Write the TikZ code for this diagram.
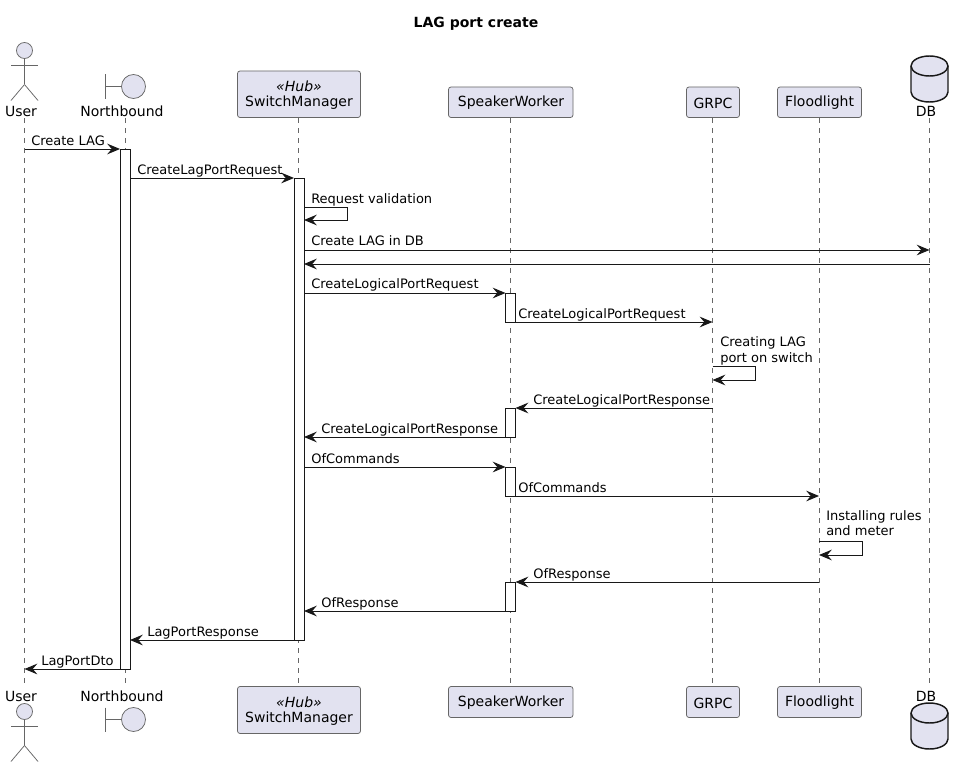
\documentclass[tikz,border=0pt]{standalone}
\usepackage{fontspec}
\setmainfont{DejaVu Sans}
\usetikzlibrary{arrows.meta,calc}
\definecolor{partfill}{HTML}{E2E2F0}
\definecolor{partline}{HTML}{666666}
\definecolor{ink}{HTML}{181818}
\tikzset{
  px/.style={x=0.75pt,y=-0.75pt},
  partbox/.style={draw=partline,line width=0.55pt,fill=partfill,rounded corners=1.9pt,inner sep=0pt,outer sep=0pt,anchor=north west},
  parttext/.style={font=\fontsize{10.5}{13}\selectfont,text=black,inner sep=0pt,anchor=center},
  lifeline/.style={draw=partline,line width=0.45pt,dash pattern=on 3.75pt off 3.75pt},
  actbar/.style={draw=ink,line width=0.75pt,fill=white,inner sep=0pt,outer sep=0pt,anchor=north,minimum width=7.5pt},
  msgline/.style={draw=ink,line width=0.75pt,-{Stealth[length=9.6pt,width=8pt,inset=3.4pt]}},
  msglabel/.style={font=\fontsize{9.75}{12}\selectfont,text=black,inner sep=0pt,anchor=base west},
  figline/.style={draw=partline,line width=0.55pt,fill=partfill},
  dbline/.style={draw=ink,line width=1.1pt,fill=partfill},
}
\def\lift{4}
% box: name, left, top, right, bottom
\newcommand{\pbox}[5]{%
  \pgfmathsetmacro{\bw}{(#4-#2)*0.75}%
  \pgfmathsetmacro{\bh}{(#5-#3)*0.75}%
  \node[partbox,minimum width=\bw pt,minimum height=\bh pt] (#1) at (#2,#3) {};}
% actor: name, x, head centre y
\newcommand{\actorfig}[3]{%
  \node[figline,circle,inner sep=0pt,outer sep=0pt,minimum size=12pt] (#1) at (#2,#3) {};
  \draw[figline] (#1.south) -- ++(0,26) coordinate (#1-hip);
  \draw[figline] ($(#1.south)+(-13.5,7)$) -- ++(27,0);
  \draw[figline] (#1-hip) -- ++(-13.5,16);
  \draw[figline] (#1-hip) -- ++(13.5,16);}
% boundary: name, circle x, circle y
\newcommand{\boundfig}[3]{%
  \node[figline,circle,inner sep=0pt,outer sep=0pt,minimum size=18pt] (#1) at (#2,#3) {};
  \draw[figline] (#1.west) -- ++(-16.5,0) coordinate (#1-bar);
  \draw[figline] ($(#1-bar)+(0,-12)$) -- ++(0,24);}
% database: x left, top y
\newcommand{\dbfig}[2]{%
  \pgfmathsetmacro{\xm}{#1+18.5}\pgfmathsetmacro{\xr}{#1+37}%
  \pgfmathsetmacro{\xp}{#1+8.3}\pgfmathsetmacro{\xq}{#1+28.7}%
  \pgfmathsetmacro{\ya}{#2+10}\pgfmathsetmacro{\yb}{#2+36}\pgfmathsetmacro{\yc}{#2+46}\pgfmathsetmacro{\yd}{#2+20}%
  \pgfmathsetmacro{\ct}{#2+4.5}\pgfmathsetmacro{\cm}{#2+15.5}\pgfmathsetmacro{\cb}{#2+41.5}%
  \draw[dbline] (#1,\ya) .. controls (#1,\ct) and (\xp,#2) .. (\xm,#2)
    .. controls (\xq,#2) and (\xr,\ct) .. (\xr,\ya) -- (\xr,\yb)
    .. controls (\xr,\cb) and (\xq,\yc) .. (\xm,\yc)
    .. controls (\xp,\yc) and (#1,\cb) .. (#1,\yb) -- cycle;
  \draw[dbline,fill=none] (#1,\ya) .. controls (#1,\cm) and (\xp,\yd) .. (\xm,\yd)
    .. controls (\xq,\yd) and (\xr,\cm) .. (\xr,\ya);}
% activation: name, x, y1, y2
\newcommand{\act}[4]{%
  \pgfmathsetmacro{\bh}{(#4-#3)*0.75}%
  \node[actbar,minimum height=\bh pt] (#1) at (#2,#3) {};}
% message: id, from, to, y, label x, label
\newcommand{\msg}[6]{%
  \coordinate (#1-a) at (#2 |- 0,#4);
  \coordinate (#1-b) at (#3 |- 0,#4);
  \draw[msgline] (#1-a) -- (#1-b);
  \node[msglabel] (#1-t) at (#5,#4-\lift) {#6};}
% unlabelled message: id, from, to, y
\newcommand{\plainmsg}[4]{%
  \coordinate (#1-a) at (#2 |- 0,#4);
  \coordinate (#1-b) at (#3 |- 0,#4);
  \draw[msgline] (#1-a) -- (#1-b);}
% self message: id, from, to, y1, y2
\newcommand{\selfmsg}[5]{%
  \coordinate (#1-a) at (#2 |- 0,#4);
  \coordinate (#1-b) at (#3 |- 0,#5);
  \draw[msgline] (#1-a) -- ++(43,0) |- (#1-b);}
\begin{document}
\begin{tikzpicture}[px]
\useasboundingbox (0,0) rectangle (963,767);
\fill[white] (0,0) rectangle (963,767);
\node[font=\bfseries\fontsize{10.5}{13}\selectfont,inner sep=0pt] (title) at (476,24) {LAG port create};

% lifeline end points
\foreach \n/\x in {User/24.5,North/125.5,SM/298.5,SW/510.5,GR/712.5,FL/819,DB/929.5}{
  \coordinate (l\n) at (\x,118);
  \coordinate (e\n) at (\x,686);
  \draw[lifeline] (l\n) -- (e\n);
}

% top row
\actorfig{userTop}{24.5}{50.5}
\node[parttext] (userTopL) at (21,111) {User};
\boundfig{northTop}{133.5}{86.5}
\node[parttext] (northTopL) at (122,111) {Northbound};
\pbox{smTop}{237.5}{71}{360.5}{117.5}
\node[parttext,font=\itshape\fontsize{10.5}{13}\selectfont] (smTopS) at (299,86.5) {«Hub»};
\node[parttext] (smTopL) at (299,103) {SwitchManager};
\pbox{swTop}{448.5}{87}{573}{117.5}
\node[parttext] (swTopL) at (511,103) {SpeakerWorker};
\pbox{grTop}{686.5}{87}{739.5}{117.5}
\node[parttext] (grTopL) at (713,103) {GRPC};
\pbox{flTop}{777.5}{87}{861.5}{117.5}
\node[parttext] (flTopL) at (819.5,103) {Floodlight};
\dbfig{911}{56}
\node[parttext] (dbTopL) at (926,111) {DB};

% bottom row
\node[parttext] (userBotL) at (21,696) {User};
\actorfig{userBot}{24.5}{711.5}
\node[parttext] (northBotL) at (122,696) {Northbound};
\boundfig{northBot}{133.5}{719.5}
\pbox{smBot}{237.5}{686.5}{360.5}{733.5}
\node[parttext,font=\itshape\fontsize{10.5}{13}\selectfont] (smBotS) at (299,702.5) {«Hub»};
\node[parttext] (smBotL) at (299,719) {SwitchManager};
\pbox{swBot}{448.5}{686.5}{573}{717.5}
\node[parttext] (swBotL) at (511,703) {SpeakerWorker};
\pbox{grBot}{686.5}{686.5}{739.5}{717.5}
\node[parttext] (grBotL) at (713,703) {GRPC};
\pbox{flBot}{777.5}{686.5}{861.5}{717.5}
\node[parttext] (flBotL) at (819.5,703) {Floodlight};
\node[parttext] (dbBotL) at (926,696) {DB};
\dbfig{911}{703}

% activations
\act{nbA}{125}{149}{669}
\act{smA}{299}{178}{640}
\act{swA}{510.5}{293}{322}
\act{swB}{510.5}{408}{437}
\act{swC}{510.5}{467}{496}
\act{swD}{510.5}{582}{611}

% messages
\msg{m1}{lUser}{nbA.west}{149}{31}{Create LAG}
\msg{m2}{nbA.east}{smA.west}{178}{137}{CreateLagPortRequest}
\selfmsg{m3}{smA.east}{smA.east}{207}{220}
\node[msglabel] (m3-t) at (311,203) {Request validation};
\def\lift{5}
\msg{m4}{smA.east}{lDB}{250}{311}{Create LAG in DB}
\plainmsg{m5}{lDB}{smA.east}{264}
\msg{m6}{smA.east}{swA.west}{293}{311}{CreateLogicalPortRequest}
\def\lift{4}
\msg{m7}{swA.east}{lGR}{322}{518}{CreateLogicalPortRequest}
\selfmsg{m8}{lGR}{lGR}{366}{380}
\node[msglabel] (m8-t1) at (720,346) {Creating LAG};
\node[msglabel] (m8-t2) at (720,362) {port on switch};
\msg{m9}{lGR}{swB.east}{408}{533}{CreateLogicalPortResponse}
\msg{m10}{swB.west}{smA.east}{437}{321}{CreateLogicalPortResponse}
\msg{m11}{smA.east}{swC.west}{467}{311}{OfCommands}
\msg{m12}{swC.east}{lFL}{496}{518}{OfCommands}
\selfmsg{m13}{lFL}{lFL}{541}{555}
\node[msglabel] (m13-t1) at (826,520) {Installing rules};
\node[msglabel] (m13-t2) at (826,535.5) {and meter};
\msg{m14}{lFL}{swD.east}{582}{533}{OfResponse}
\msg{m15}{swD.west}{smA.east}{611}{321}{OfResponse}
\msg{m16}{smA.west}{nbA.east}{640}{147}{LagPortResponse}
\msg{m17}{nbA.west}{lUser}{669}{41}{LagPortDto}
\end{tikzpicture}
\end{document}
